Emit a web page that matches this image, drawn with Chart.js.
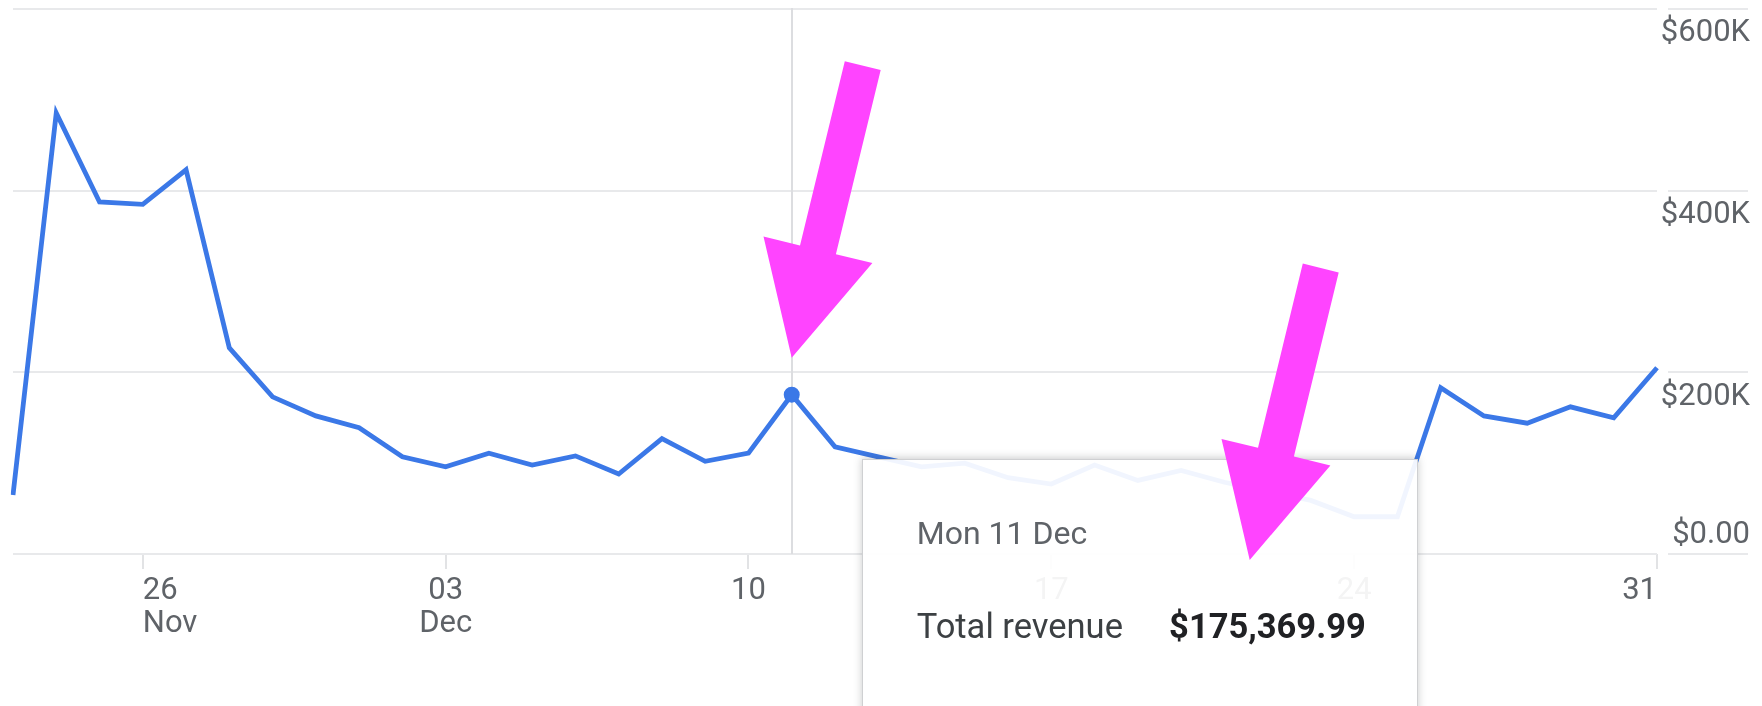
<!DOCTYPE html>
<html><head><meta charset="utf-8">
<script src="https://cdn.jsdelivr.net/npm/chart.js@4.4.1/dist/chart.umd.min.js"></script>
<style>
html,body{margin:0;padding:0;background:#fff;overflow:hidden;width:1762px;height:706px;}
#wrap{position:relative;width:1762px;height:706px;overflow:hidden;}
canvas{display:block;}
#tip{position:absolute;box-sizing:border-box;width:556px;height:330px;background:rgba(255,255,255,0.93);border:1px solid #cfd0d2;box-shadow:0 -1px 8px rgba(60,64,67,0.28);font-family:Roboto,sans-serif;pointer-events:none;display:none;}
#tip .t{position:absolute;left:54px;top:57px;font-size:32px;line-height:32px;color:#5f6368;white-space:nowrap}
#tip .r{position:absolute;left:54px;right:51px;top:149px;display:flex;justify-content:space-between;font-size:34.5px;line-height:34px;white-space:nowrap}
#tip .l{color:#3c4043}
#tip .v{color:#202124;font-weight:700}
#arrows{position:absolute;left:0;top:0;pointer-events:none}
</style></head>
<body>
<div id="wrap">
<canvas id="c" width="1762" height="706"></canvas>
<div id="tip"><div class="t"></div><div class="r"><span class="l"></span><span class="v"></span></div></div>
<svg id="arrows" width="1762" height="706"><polygon id="a1" fill="#ff44ff"/><polygon id="a2" fill="#ff44ff"/></svg>
</div>
<script>
const categories = ['Thu 23 Nov','Fri 24 Nov','Sat 25 Nov','Sun 26 Nov','Mon 27 Nov','Tue 28 Nov','Wed 29 Nov','Thu 30 Nov',
  'Fri 1 Dec','Sat 2 Dec','Sun 3 Dec','Mon 4 Dec','Tue 5 Dec','Wed 6 Dec','Thu 7 Dec','Fri 8 Dec','Sat 9 Dec','Sun 10 Dec',
  'Mon 11 Dec','Tue 12 Dec','Wed 13 Dec','Thu 14 Dec','Fri 15 Dec','Sat 16 Dec','Sun 17 Dec','Mon 18 Dec','Tue 19 Dec',
  'Wed 20 Dec','Thu 21 Dec','Fri 22 Dec','Sat 23 Dec','Sun 24 Dec','Mon 25 Dec','Tue 26 Dec','Wed 27 Dec','Thu 28 Dec',
  'Fri 29 Dec','Sat 30 Dec','Sun 31 Dec'];
const revenue = [65000, 485500, 387500, 385000, 423000, 227000, 173000, 152000, 139000, 107000, 96000, 111000, 98000,
  108000, 88000, 127000, 102000, 111000, 175369.99, 118000, 107000, 96000, 100000, 84000, 77000, 98000, 81000, 92000,
  79000, 69000, 59000, 41000, 41000, 183000, 152000, 144000, 162000, 150000, 205000];
const xTickDays = ['Sun 26 Nov','Sun 3 Dec','Sun 10 Dec','Sun 17 Dec','Sun 24 Dec','Sun 31 Dec'];
const xTickLabels = [['26','Nov'], ['03','Dec'], ['10'], ['17'], ['24'], ['31']];
const yTickValues = [0, 200000, 400000, 600000];
const yTickLabels = ['$0.00', '$200K', '$400K', '$600K'];
const seriesLabel = 'Total revenue';
const hoverIndex = 18;

const BLUE = '#3b78e7', GRID = '#e8e9eb', TEXT = '#5f6368';
const fmt = new Intl.NumberFormat('en-US', {style:'currency', currency:'USD', minimumFractionDigits:2});

function arrowPoints(tx, ty) {
  const dx = -71, dy = 292, L = Math.hypot(dx, dy);
  const ux = dx / L, uy = dy / L, nx = -uy, ny = ux;
  const headLen = 111, headHalf = 56, shaftHalf = 18.5;
  const bx = tx - ux * headLen, by = ty - uy * headLen;
  const ax = tx - ux * L, ay = ty - uy * L;
  const p = [[ax + nx * shaftHalf, ay + ny * shaftHalf], [bx + nx * shaftHalf, by + ny * shaftHalf],
    [bx + nx * headHalf, by + ny * headHalf], [tx, ty], [bx - nx * headHalf, by - ny * headHalf],
    [bx - nx * shaftHalf, by - ny * shaftHalf], [ax - nx * shaftHalf, ay - ny * shaftHalf]];
  return p.map(q => q[0].toFixed(1) + ',' + q[1].toFixed(1)).join(' ');
}

function externalTip(context) {
  const {chart, tooltip} = context;
  const el = document.getElementById('tip');
  if (!tooltip || tooltip.opacity === 0 || !tooltip.dataPoints || !tooltip.dataPoints.length) { el.style.display = 'none'; return; }
  const dp = tooltip.dataPoints[0];
  el.querySelector('.t').textContent = tooltip.title[0];
  el.querySelector('.l').textContent = dp.dataset.label;
  el.querySelector('.v').textContent = fmt.format(dp.raw);
  const left = tooltip.caretX + 70, top = chart.chartArea.bottom - 95;
  el.style.left = left + 'px'; el.style.top = top + 'px'; el.style.display = 'block';
  const pt = chart.getDatasetMeta(0).data[dp.dataIndex];
  document.getElementById('a1').setAttribute('points', arrowPoints(pt.x, pt.y - 37));
  document.getElementById('a2').setAttribute('points', arrowPoints(left + 388, top + 101));
}

const crosshair = {
  id: 'crosshair',
  beforeDatasetsDraw(chart) {
    const act = chart.getActiveElements();
    if (!act.length) return;
    const x = Math.round(act[0].element.x);
    const {top, bottom} = chart.chartArea;
    const ctx = chart.ctx;
    ctx.save();
    ctx.strokeStyle = '#dcdde0'; ctx.lineWidth = 2;
    ctx.beginPath(); ctx.moveTo(x, top - 1); ctx.lineTo(x, bottom); ctx.stroke();
    ctx.restore();
  }
};

Chart.defaults.font.family = 'Roboto';
const chart = new Chart(document.getElementById('c'), {
  type: 'line',
  data: {
    labels: categories,
    datasets: [{
      label: seriesLabel,
      data: revenue,
      borderColor: BLUE,
      backgroundColor: BLUE,
      borderWidth: 4.8,
      tension: 0,
      fill: false,
      pointRadius: 0,
      pointHoverRadius: 7,
      pointHoverBorderWidth: 2,
      pointHoverBackgroundColor: BLUE,
      pointHoverBorderColor: BLUE
    }]
  },
  options: {
    responsive: false,
    animation: false,
    devicePixelRatio: 1,
    events: [],
    layout: { padding: { left: 13, top: 9, right: 12, bottom: 0 }, autoPadding: false },
    plugins: {
      legend: { display: false },
      tooltip: { enabled: false, external: externalTip, animation: false, mode: 'index', intersect: false }
    },
    scales: {
      x: {
        type: 'category',
        offset: false,
        border: { display: false },
        grid: { drawOnChartArea: false, drawTicks: true, tickLength: 15, color: '#e2e3e5', lineWidth: 2 },
        ticks: {
          autoSkip: false, maxRotation: 0, minRotation: 0, align: 'inner', color: TEXT, padding: 6,
          font: { size: 31, lineHeight: 32.5 / 31 },
          callback: (value, index) => xTickLabels[index]
        },
        afterBuildTicks: (scale) => { scale.ticks = scale.ticks.filter(t => xTickDays.includes(categories[t.value])); },
        afterFit: (scale) => { scale.height = 152; scale.paddingLeft = 0; scale.paddingRight = 0; }
      },
      y: {
        position: 'right',
        min: 0, max: 600000,
        border: { display: false },
        grid: { color: GRID, lineWidth: 2, drawTicks: true, tickLength: 91, tickColor: GRID, tickBorderDash: [0, 11, 80] },
        ticks: {
          stepSize: 200000, color: TEXT, crossAlign: 'far', padding: 0, labelOffset: 3,
          font: { size: 31, lineHeight: 43 / 31 },
          callback: (v) => { const s = yTickLabels[yTickValues.indexOf(v)]; return v === 0 ? [s, ''] : ['', s]; }
        },
        afterFit: (scale) => { scale.width = 93; scale.paddingTop = 0; scale.paddingBottom = 0; }
      }
    }
  },
  plugins: [crosshair]
});

const pt = chart.getDatasetMeta(0).data[hoverIndex];
chart.setActiveElements([{datasetIndex: 0, index: hoverIndex}]);
chart.tooltip.setActiveElements([{datasetIndex: 0, index: hoverIndex}], {x: pt.x, y: pt.y});
chart.update();
</script>
</body></html>
